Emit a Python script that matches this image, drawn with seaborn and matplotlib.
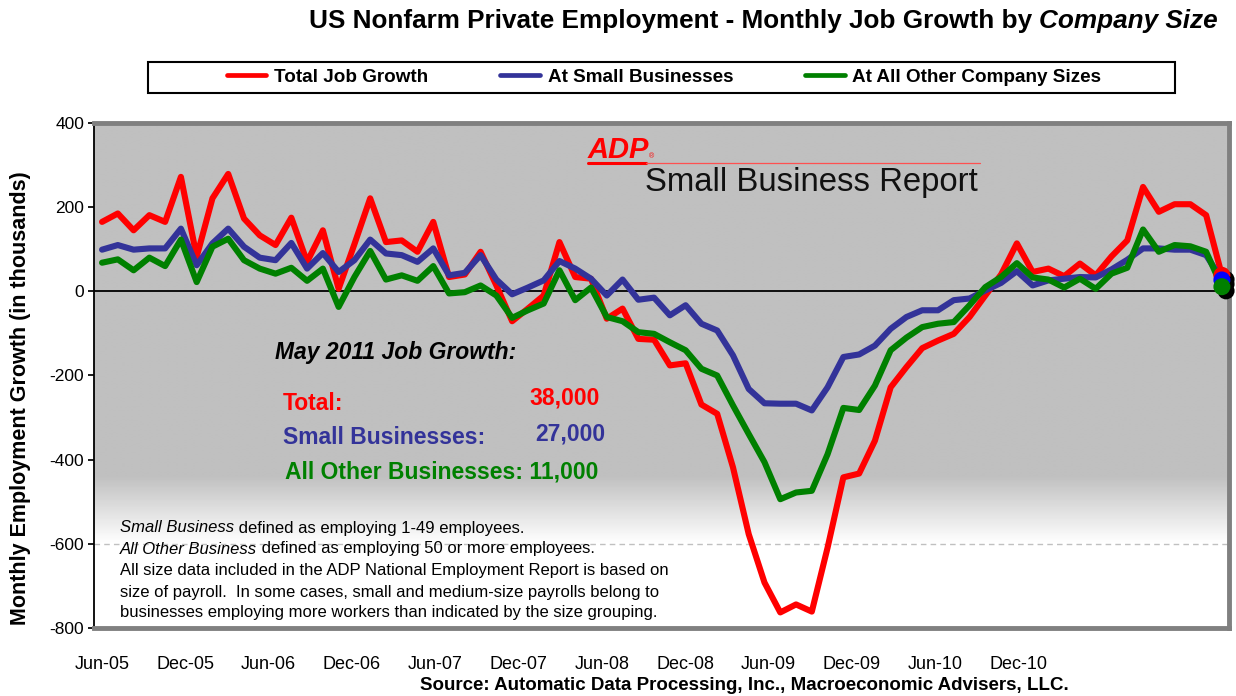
import numpy as np
import pandas as pd
import seaborn as sns
import matplotlib.pyplot as plt
import matplotlib.patheffects as pe
from matplotlib.lines import Line2D
from matplotlib.patches import Rectangle

# monthly job growth, Jun-05 .. May-11 (thousands)
total = [165, 185, 145, 181, 165, 272, 82, 221, 279, 173, 133, 110,
         175, 70, 145, 6, 112, 221, 117, 121, 94, 165, 34, 40,
         94, 14, -71, -41, -10, 117, 34, 30, -65, -41, -113, -115,
         -176, -171, -269, -291, -418, -577, -692, -763, -744, -761, -609, -442,
         -433, -355, -228, -180, -135, -117, -101, -61, -10, 40, 114, 46,
         54, 36, 66, 38, 83, 121, 248, 189, 207, 207, 181, 38]
small = [99, 110, 99, 102, 102, 149, 62, 114, 149, 106, 80, 74,
         115, 54, 91, 46, 74, 123, 90, 86, 70, 102, 38, 44,
         86, 28, -7, 9, 26, 72, 54, 30, -10, 28, -20, -15,
         -57, -33, -77, -93, -152, -232, -266, -267, -267, -283, -228, -156,
         -150, -129, -89, -61, -45, -45, -21, -17, 2, 20, 48, 14,
         26, 30, 34, 33, 52, 75, 102, 102, 99, 99, 86, 27]
other = [68, 76, 50, 80, 60, 123, 22, 106, 125, 74, 54, 42,
         56, 25, 54, -37, 34, 96, 28, 38, 25, 60, -5, -2,
         14, -10, -63, -45, -29, 50, -21, 9, -61, -71, -97, -101,
         -121, -140, -184, -200, -271, -339, -406, -494, -478, -474, -387, -277,
         -282, -224, -140, -110, -85, -77, -73, -33, 10, 34, 67, 33,
         28, 9, 30, 6, 42, 56, 147, 94, 110, 107, 94, 11]

tick_labels = ["Jun-05", "Dec-05", "Jun-06", "Dec-06", "Jun-07", "Dec-07",
               "Jun-08", "Dec-08", "Jun-09", "Dec-09", "Jun-10", "Dec-10"]
series_names = ["Total Job Growth", "At Small Businesses", "At All Other Company Sizes"]
colors = ["#ff0000", "#333399", "#008000"]

W, H = 1236, 696


def px(x, y):
    # pixel position -> figure fraction
    return x / W, 1 - y / H


def build_frame():
    n = len(total)
    return pd.DataFrame({
        "month": list(range(n)) * 3,
        "value": total + small + other,
        "series": [s for s in series_names for _ in range(n)],
    })


sns.set_theme(style="white")
plt.rcParams["font.family"] = ["Liberation Sans", "DejaVu Sans"]
plt.rcParams["axes.unicode_minus"] = False
plt.rcParams["text.color"] = "black"

fig = plt.figure(figsize=(W / 100, H / 100), dpi=100)
fig.patch.set_facecolor("white")
ax = fig.add_axes([94 / W, 1 - 628 / H, (1229 - 94) / W, (628 - 123) / H])

xmin, xmax = -0.51, 71.45
ax.set_xlim(xmin, xmax)
ax.set_ylim(-800, 400)

# background gradient: grey on top, fading to white at the bottom
yy = np.linspace(400, -800, 400)
shade = np.clip((yy + 440) / -160, 0, 1)
grey = 0.753 + (1 - 0.753) * shade
bg = np.repeat(grey[:, None], 2, axis=1)
ax.imshow(bg, extent=(xmin, xmax, -800, 400), aspect="auto", cmap="gray",
          vmin=0, vmax=1, zorder=0, interpolation="bilinear")

ax.set_yticks([400, 200, 0, -200, -400, -600, -800])
ax.yaxis.grid(True, color="#c0c0c0", linestyle=(0, (4, 3)), linewidth=1)
ax.xaxis.grid(False)
ax.set_axisbelow(True)
ax.axhline(0, color="black", linewidth=1.3, zorder=1)

df = build_frame()
sns.lineplot(data=df, x="month", y="value", hue="series", hue_order=series_names,
             palette=dict(zip(series_names, colors)), linewidth=4.4,
             legend=False, ax=ax, zorder=3)

# end point markers with shadow
for vals, c in zip([total, small, other], ["#ff0000", "#0000ff", "#008000"]):
    ax.scatter([len(vals) - 1], [vals[-1]], s=150, color=c, zorder=5,
               clip_on=False, linewidths=0,
               path_effects=[pe.SimplePatchShadow(offset=(3, -3), shadow_rgbFace="black", alpha=1),
                             pe.Normal()])

# x labels sit where the original chart put them
ax.set_xticks(np.arange(len(tick_labels)) * 5.28)
ax.set_xticklabels(tick_labels)
ax.tick_params(axis="x", length=0, pad=20, labelsize=13, colors="black")
ax.tick_params(axis="y", length=4, direction="out", pad=3, labelsize=12.5,
               colors="black", left=True)
ax.set_xlabel("")
ax.set_ylabel("")

for side in ["top", "right", "bottom"]:
    ax.spines[side].set_color("#808080")
    ax.spines[side].set_linewidth(3.5)
ax.spines["left"].set_color("black")
ax.spines["left"].set_linewidth(1.3)

fig.text(*px(21, 398), "Monthly Employment Growth (in thousands)", rotation=90,
         ha="center", va="center", fontsize=15.5, fontweight="bold")

# title, last words in italic
t2 = fig.text(*px(1218, 21), "Company Size", ha="right", va="center",
              fontsize=18.8, fontweight="bold", style="italic")
ax.annotate("US Nonfarm Private Employment - Monthly Job Growth by ", xy=(0, 0),
            xycoords=t2, ha="right", va="bottom", fontsize=18.8, fontweight="bold",
            annotation_clip=False)

# legend with a square black frame
handles = [Line2D([], [], color=c, linewidth=3.4) for c in colors]
leg = fig.legend(handles, series_names, loc="center", bbox_to_anchor=px(664, 77),
                 ncol=3, frameon=False, prop={"weight": "bold", "size": 13.6},
                 handlelength=2.1, handletextpad=0.42, columnspacing=3.8)
x0, y0 = px(148, 93)
x1, y1 = px(1175, 62)
fig.add_artist(Rectangle((x0, y0), x1 - x0, y1 - y0, transform=fig.transFigure,
                         fill=False, edgecolor="black", linewidth=1.5))

# ADP logo + report name
fig.text(*px(588, 150), "ADP", ha="left", va="center", fontsize=21, color="#ff0000",
         fontweight="bold", style="italic")
fig.text(*px(652, 157), "®", ha="center", va="center", fontsize=5, color="#ff0000")
fig.add_artist(Line2D([588 / W, 646 / W], [1 - 163 / H] * 2, transform=fig.transFigure,
                      color="#ff0000", linewidth=2.2))
fig.add_artist(Line2D([646 / W, 980 / W], [1 - 163 / H] * 2, transform=fig.transFigure,
                      color="#ff5050", linewidth=0.9))
fig.text(*px(645, 183), "Small Business Report", ha="left", va="center",
         fontsize=23.7, color="#111111")

# May 2011 summary
fs_sum = 16.5
fig.text(*px(275, 352), "May 2011 Job Growth:", ha="left", va="center",
         fontsize=fs_sum, fontweight="bold", style="italic")
fig.text(*px(283, 404), "Total:", ha="left", va="center", fontsize=fs_sum,
         fontweight="bold", color="#ff0000")
fig.text(*px(600, 398), "38,000", ha="right", va="center", fontsize=fs_sum,
         fontweight="bold", color="#ff0000")
fig.text(*px(283, 437), "Small Businesses:", ha="left", va="center", fontsize=fs_sum,
         fontweight="bold", color="#333399")
fig.text(*px(605, 434), "27,000", ha="right", va="center", fontsize=fs_sum,
         fontweight="bold", color="#333399")
fig.text(*px(285, 472), "All Other Businesses: 11,000", ha="left", va="center",
         fontsize=fs_sum, fontweight="bold", color="#008000")

# footnote
fs = 12
it1 = fig.text(*px(120, 528), "Small Business", ha="left", va="center", fontsize=fs, style="italic")
ax.annotate(" defined as employing 1-49 employees.", xy=(1, 0), xycoords=it1,
            ha="left", va="bottom", fontsize=fs, annotation_clip=False)
it2 = fig.text(*px(120, 549), "All Other Business", ha="left", va="center", fontsize=fs, style="italic")
ax.annotate(" defined as employing 50 or more employees.", xy=(1, 0), xycoords=it2,
            ha="left", va="bottom", fontsize=fs, annotation_clip=False)
notes = ["All size data included in the ADP National Employment Report is based on",
         "size of payroll.  In some cases, small and medium-size payrolls belong to",
         "businesses employing more workers than indicated by the size grouping."]
for i, line in enumerate(notes):
    fig.text(*px(120, 571 + 21 * i), line, ha="left", va="center", fontsize=fs)

fig.text(*px(744, 685), "Source: Automatic Data Processing, Inc., Macroeconomic Advisers, LLC.",
         ha="center", va="center", fontsize=13.5, fontweight="bold")

fig.savefig("out.png", dpi=100)
